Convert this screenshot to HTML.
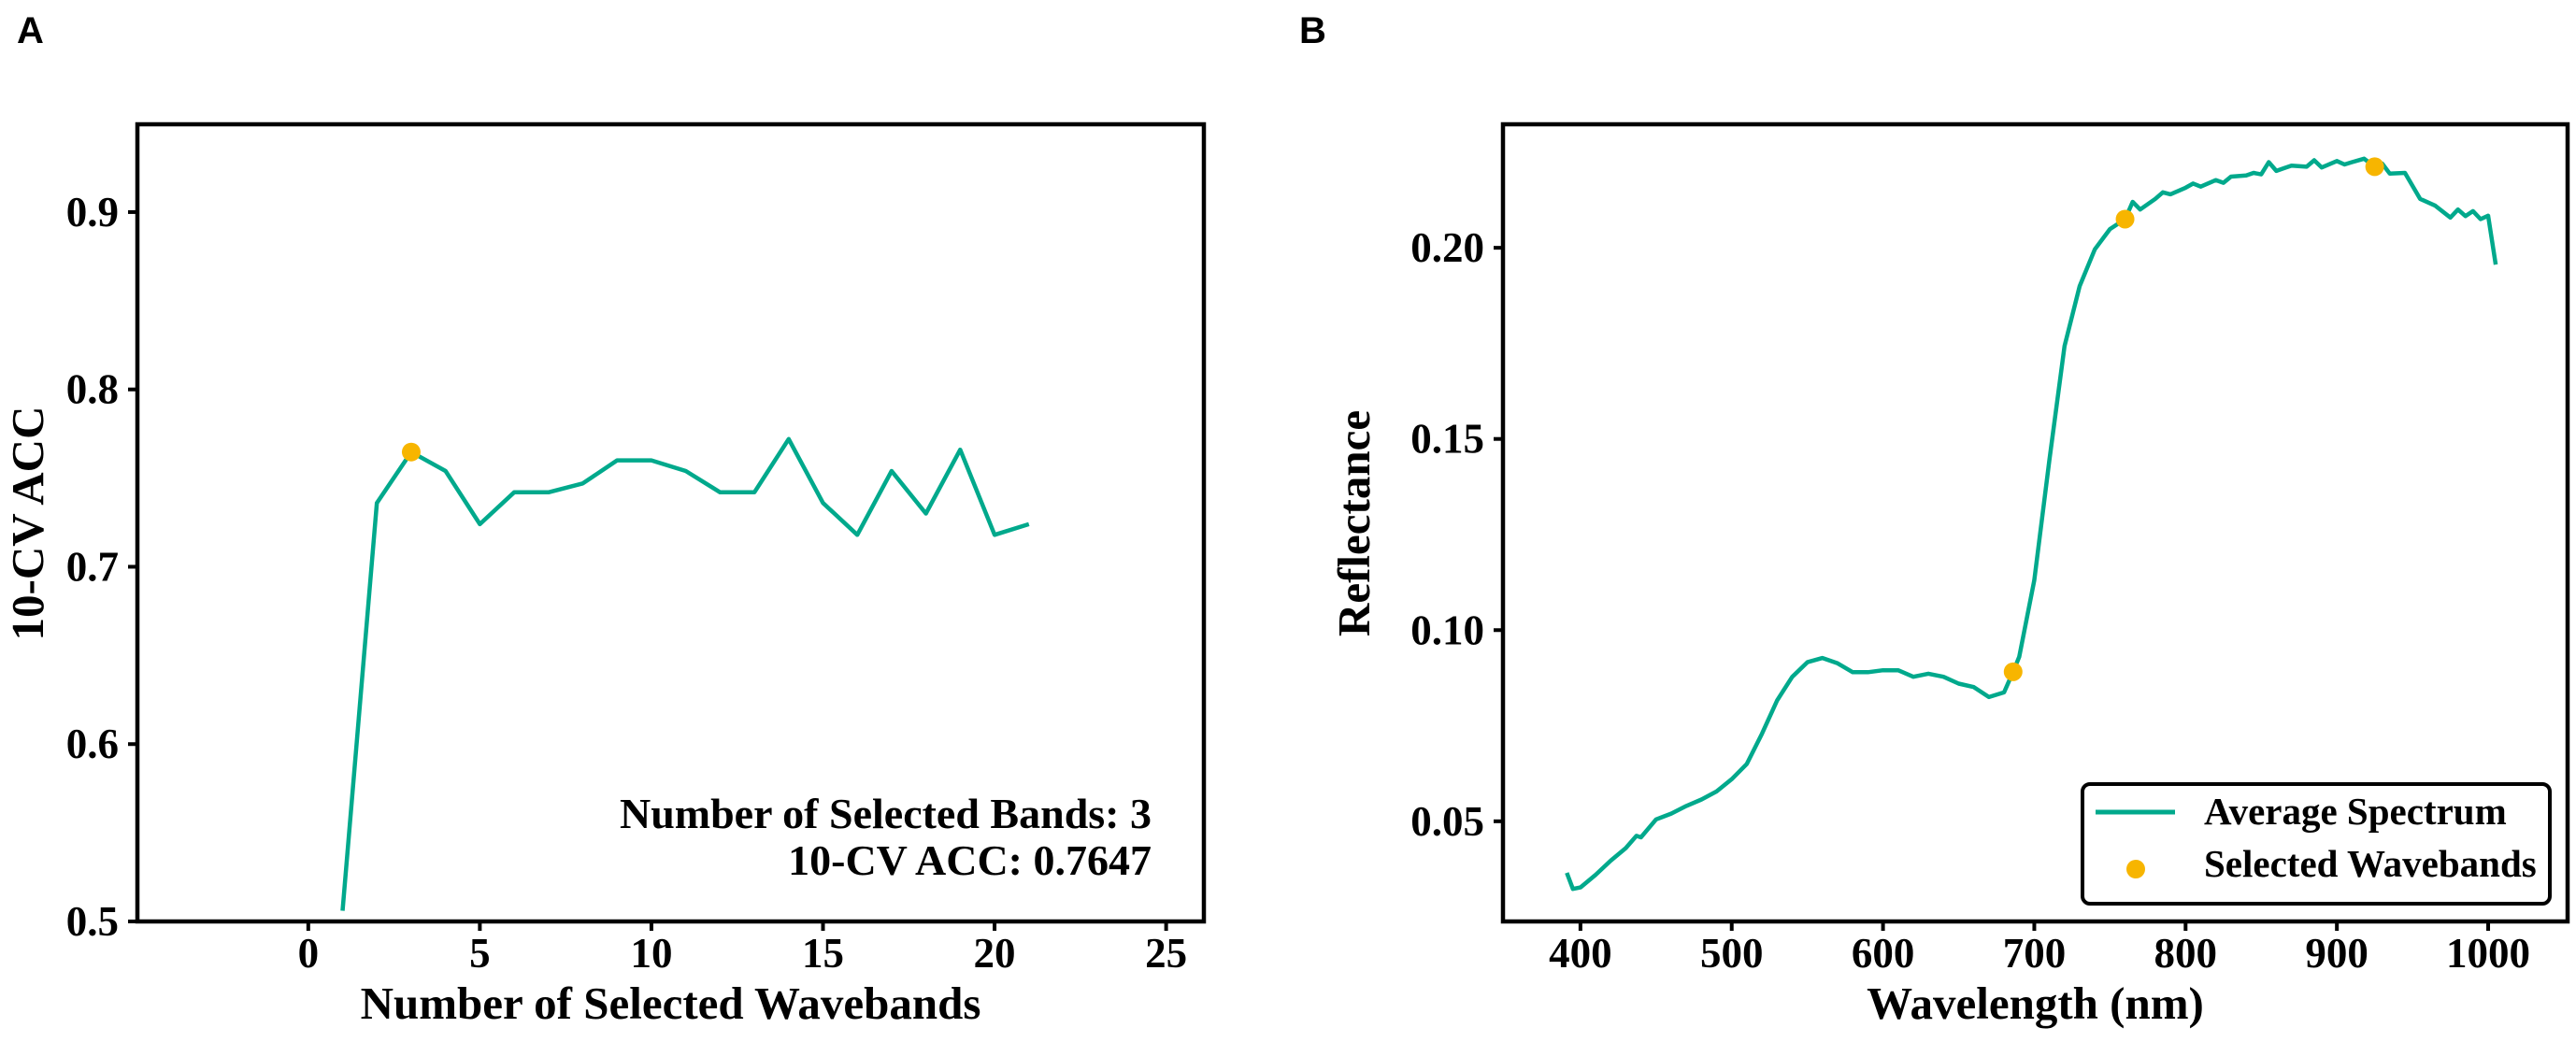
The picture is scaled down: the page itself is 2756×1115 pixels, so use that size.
<!DOCTYPE html>
<html><head><meta charset="utf-8"><style>
html,body{margin:0;padding:0;background:#fff;}
svg{display:block;}
.t{font-family:"Liberation Serif",serif;font-weight:bold;fill:#000;}
.p{font-family:"Liberation Sans",sans-serif;font-weight:bold;fill:#000;}
</style></head><body>
<svg id="fig" width="2756" height="1115" viewBox="0 0 2756 1115" xmlns="http://www.w3.org/2000/svg">
<text class="p" x="18" y="46" font-size="40">A</text>
<text class="p" x="1390" y="46" font-size="40">B</text>
<g id="A"></g>
<g id="B"></g>
</svg>
<script>
// Panel A data
const aBands = [1,2,3,4,5,6,7,8,9,10,11,12,13,14,15,16,17,18,19,20,21];
const aAcc = [0.506,0.736,0.7647,0.754,0.724,0.742,0.742,0.747,0.760,0.760,0.754,0.742,0.742,0.772,0.736,0.718,0.754,0.730,0.766,0.718,0.724];
const aSelBand = [3];
const aSelAcc = [0.7647];
const aXTicks = [0,5,10,15,20,25];
const aYTicks = [0.5,0.6,0.7,0.8,0.9];
const aYTickLabels = ["0.5","0.6","0.7","0.8","0.9"];
// Panel B data
const bWave = [391,395,400,410,420,430,437,440,450,460,470,480,490,500,510,520,530,540,550,560,570,580,590,600,610,620,630,640,650,660,670,680,686,690,700,710,720,730,740,750,760,765,770,780,785,790,800,805,810,820,825,830,840,845,850,855,860,865,870,880,885,890,900,905,910,918,925,930,935,945,955,965,975,980,985,990,995,1000,1005];
const bRefl = [0.0365,0.0323,0.0327,0.036,0.0397,0.043,0.0462,0.0458,0.0505,0.052,0.054,0.0557,0.0578,0.061,0.065,0.0729,0.0816,0.0878,0.0916,0.0927,0.0913,0.089,0.089,0.0895,0.0895,0.0878,0.0886,0.0878,0.086,0.0851,0.0825,0.0837,0.0891,0.093,0.113,0.1445,0.1743,0.190,0.1996,0.2049,0.2075,0.212,0.210,0.2128,0.2145,0.2140,0.2157,0.2168,0.2160,0.2177,0.2170,0.2186,0.2189,0.2196,0.2192,0.2224,0.2201,0.2208,0.2215,0.2212,0.2229,0.221,0.2227,0.2218,0.2224,0.2233,0.2212,0.2220,0.2194,0.2196,0.2128,0.211,0.2079,0.2100,0.2083,0.2096,0.2075,0.2084,0.1956];
const bSelWave = [686,760,925];
const bSelRefl = [0.0891,0.2075,0.2212];
const bXTicks = [400,500,600,700,800,900,1000];
const bYTicks = [0.05,0.10,0.15,0.20];
const bYTickLabels = ["0.05","0.10","0.15","0.20"];

const NS="http://www.w3.org/2000/svg";
const TEAL="#00A98C", GOLD="#F7B500";
function mk(parent,tag,attrs,text){const e=document.createElementNS(NS,tag);for(const k in attrs)e.setAttribute(k,attrs[k]);if(text!==undefined)e.textContent=text;parent.appendChild(e);return e;}
function lin(d0,d1,r0,r1){return v=>r0+(v-d0)/(d1-d0)*(r1-r0);}

function drawPanel(g,o){
  const L=o.L,R=o.R,T=133,Bt=986;
  const sx=lin(o.xd[0],o.xd[1],L,R), sy=lin(o.yd[0],o.yd[1],Bt,T);
  let d=o.xs.map((x,i)=>(i?'L':'M')+sx(x).toFixed(1)+','+sy(o.ys[i]).toFixed(1)).join('');
  const p=mk(g,'path',{d:d,fill:'none',stroke:TEAL,'stroke-width':4.5,'stroke-linejoin':'round'});
  
  
  o.sx2.forEach((x,i)=>{
    const c=mk(g,'circle',{cx:sx(x),cy:sy(o.sy2[i]),r:10,fill:GOLD});
    
    
  });
  const f=mk(g,'rect',{x:L,y:T,width:R-L,height:Bt-T,fill:'none',stroke:'#000','stroke-width':4.5});
  
  
  o.xt.forEach(v=>{
    const x=sx(v);
    mk(g,'line',{x1:x,x2:x,y1:Bt,y2:Bt+10,stroke:'#000','stroke-width':4});
    const t=mk(g,'text',{class:'t',x:x,y:1035,'font-size':45,'text-anchor':'middle'},String(v));
    
    
  });
  o.yt.forEach((v,i)=>{
    const y=sy(v);
    mk(g,'line',{x1:L-10,x2:L,y1:y,y2:y,stroke:'#000','stroke-width':4});
    const t=mk(g,'text',{class:'t',x:L-20,y:y+15,'font-size':45,'text-anchor':'end'},o.ytl[i]);
    
    
  });
  const xl=mk(g,'text',{class:'t',x:(L+R)/2,y:1090,'font-size':49,'text-anchor':'middle'},o.xlabel);
  
  
  const yl=mk(g,'text',{class:'t',x:0,y:0,'font-size':49,'text-anchor':'middle',transform:'translate('+o.ylx+',560) rotate(-90)'},o.ylabel);
  
  
}

const gA=document.getElementById('A');
drawPanel(gA,{L:147,R:1288,xd:[-4.98,26.1],yd:[0.5,0.9495],xs:aBands,ys:aAcc,sx2:aSelBand,sy2:aSelAcc,xt:aXTicks,yt:aYTicks,ytl:aYTickLabels,xlabel:'Number of Selected Wavebands',ylabel:'10-CV ACC',ylx:46,lineName:'accuracy-line'});
const n1=mk(gA,'text',{class:'t',x:1232,y:886,'font-size':46,'text-anchor':'end'},'Number of Selected Bands: 3');


const n2=mk(gA,'text',{class:'t',x:1232,y:936,'font-size':46,'text-anchor':'end'},'10-CV ACC: 0.7647');



const gB=document.getElementById('B');
drawPanel(gB,{L:1608,R:2747,xd:[348.8,1052.5],yd:[0.0238,0.2323],xs:bWave,ys:bRefl,sx2:bSelWave,sy2:bSelRefl,xt:bXTicks,yt:bYTicks,ytl:bYTickLabels,xlabel:'Wavelength (nm)',ylabel:'Reflectance',ylx:1465,lineName:'average-spectrum-line'});
const lg=mk(gB,'g',{});


mk(lg,'rect',{x:2228,y:839,width:500,height:128,rx:8,fill:'#fff',stroke:'#000','stroke-width':4});
mk(lg,'line',{x1:2242,x2:2327,y1:869,y2:869,stroke:TEAL,'stroke-width':5});
const l1=mk(lg,'text',{class:'t',x:2358,y:882,'font-size':41},'Average Spectrum');


mk(lg,'circle',{cx:2285,cy:930,r:10,fill:GOLD});
const l2=mk(lg,'text',{class:'t',x:2358,y:938,'font-size':41},'Selected Wavebands');


</script>
</body></html>
